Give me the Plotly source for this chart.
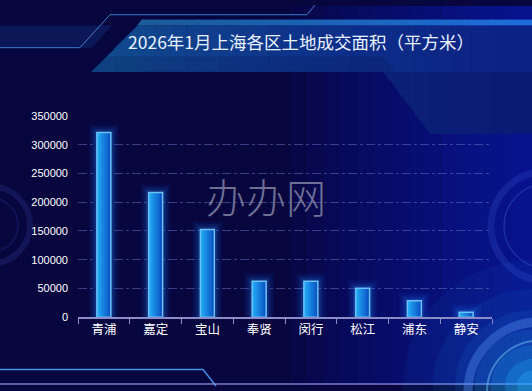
import numpy as np
import plotly.graph_objects as go

# ---------------- data ----------------
districts = ["青浦", "嘉定", "宝山", "奉贤", "闵行", "松江", "浦东", "静安"]
area_sqm = [321500, 217000, 152700, 62500, 62300, 50500, 28500, 8400]
y_ticks = [0, 50000, 100000, 150000, 200000, 250000, 300000, 350000]
title_text = "2026年1月上海各区土地成交面积（平方米）"
watermark = "办办网"

W, H = 532, 391


def px(x, y):
    return x / W, 1 - y / H


def path_of(pts, close=True):
    s = ""
    for i, (x, y) in enumerate(pts):
        a, b = px(x, y)
        s += ("M" if i == 0 else "L") + f"{a:.5f},{b:.5f} "
    return s + ("Z" if close else "")


def lerp_col(c1, c2, t):
    return tuple(int(round(c1[i] + (c2[i] - c1[i]) * t)) for i in range(3))


shapes = []

# right-side blue gradient
for k in range(14):
    x0 = 290 + k * 17
    a, _ = px(x0, 0)
    shapes.append(dict(type="rect", xref="paper", yref="paper", x0=a, x1=1, y0=0, y1=1,
                       fillcolor="rgba(15,28,200,0.06)", line_width=0, layer="below"))

# left soft band
shapes.append(dict(type="path", xref="paper", yref="paper",
                   path=path_of([(0, 20), (112, 20), (92, 43), (0, 43)]),
                   fillcolor="rgba(25,70,150,0.28)", line_width=0, layer="below"))


def top_y(x):
    if x >= 137:
        return 20
    return 20 + (137 - x) * (48 / 46)


def bot_y(x):
    if x <= 383:
        return 68
    if x <= 430:
        return 68 + (x - 383) * (64 / 47)
    return 132


xs = np.unique(np.concatenate([np.linspace(91, 137, 3), np.linspace(137, 383, 16),
                               np.linspace(383, 430, 4), np.linspace(430, 532, 6)]))
c_left, c_mid, c_right = (18, 76, 142), (14, 50, 138), (12, 32, 132)
for i in range(len(xs) - 1):
    xa, xb = xs[i], xs[i + 1]
    xm = (xa + xb) / 2
    if xm < 300:
        c = lerp_col(c_left, c_mid, (xm - 91) / 209)
    else:
        c = lerp_col(c_mid, c_right, (xm - 300) / 232)
    pts = [(xa, top_y(xa)), (xb + 0.6, top_y(xb)), (xb + 0.6, bot_y(xb)), (xa, bot_y(xa))]
    shapes.append(dict(type="path", xref="paper", yref="paper", path=path_of(pts),
                       fillcolor=f"rgb{c}", line_width=0, layer="below"))
# soften lower right extension
shapes.append(dict(type="path", xref="paper", yref="paper",
                   path=path_of([(383, 68), (532, 68), (532, 132), (430, 132)]),
                   fillcolor="rgba(8,14,90,0.35)", line_width=0, layer="below"))
# darker lower band of banner
shapes.append(dict(type="path", xref="paper", yref="paper",
                   path=path_of([(106, 52), (383, 52), (395, 68), (91, 68)]),
                   fillcolor="rgba(5,10,60,0.16)", line_width=0, layer="below"))
# top bright strip
xs2 = np.linspace(137, 532, 20)
for i in range(len(xs2) - 1):
    xa, xb = xs2[i], xs2[i + 1]
    t = ((xa + xb) / 2 - 137) / 395
    c = lerp_col((26, 90, 150), (30, 110, 220), t)
    x_off_a = 4.8 if i == 0 else 0
    pts = [(xa + x_off_a, 14), (xb + 0.6, 14), (xb + 0.6, 20), (xa, 20)]
    shapes.append(dict(type="path", xref="paper", yref="paper", path=path_of(pts),
                       fillcolor=f"rgb{c}", line_width=0, layer="below"))

# thin decorative line at top
shapes.append(dict(type="path", xref="paper", yref="paper",
                   path=path_of([(0, 43), (80, 43), (110, 9), (307, 9), (315, -1)], close=False),
                   line=dict(color="rgba(70,140,220,0.85)", width=1), layer="below"))

# bottom-left line
shapes.append(dict(type="path", xref="paper", yref="paper",
                   path=path_of([(0, 375), (203, 375), (216, 392)], close=False),
                   line=dict(color="rgba(70,150,235,0.95)", width=1.5), layer="below"))
# bottom edge line
a0, b0 = px(0, 390)
shapes.append(dict(type="line", xref="paper", yref="paper", x0=0, x1=1, y0=b0, y1=b0,
                   line=dict(color="rgba(150,150,230,0.8)", width=1.5), layer="below"))


def circle(cx, cy, r, **kw):
    x0, y0 = px(cx - r, cy + r)
    x1, y1 = px(cx + r, cy - r)
    d = dict(type="circle", xref="paper", yref="paper", x0=x0, x1=x1, y0=y0, y1=y1, layer="below")
    d.update(kw)
    return d


# left circle decoration
shapes.append(circle(-10, 226, 40, line=dict(color="rgba(45,60,150,0.30)", width=6), fillcolor="rgba(0,0,0,0)"))
shapes.append(circle(-10, 226, 28, line=dict(color="rgba(45,60,150,0.25)", width=2), fillcolor="rgba(0,0,0,0)"))

# right circle decoration
shapes.append(circle(548, 227, 57, line=dict(color="rgba(50,80,200,0.28)", width=7), fillcolor="rgba(0,0,0,0)"))
shapes.append(circle(548, 227, 44, line=dict(color="rgba(80,120,230,0.35)", width=1.2), fillcolor="rgba(0,0,0,0)"))

# bottom-right glow
for r, al in [(130, 0.05), (100, 0.07), (78, 0.09), (58, 0.13), (42, 0.18), (28, 0.25), (16, 0.3)]:
    shapes.append(circle(533, 392, r, line_width=0, fillcolor=f"rgba(35,175,250,{al})"))
shapes.append(circle(540, 398, 72, line=dict(color="rgba(80,140,240,0.4)", width=9), fillcolor="rgba(0,0,0,0)"))
shapes.append(circle(540, 398, 53, line=dict(color="rgba(120,210,255,0.45)", width=2), fillcolor="rgba(0,0,0,0)"))

# ---------------- figure ----------------
fig = go.Figure()
bw = 0.27

# glow layers
for lw, col in [(16, "rgba(30,120,255,0.07)"), (11, "rgba(30,130,255,0.10)"), (6, "rgba(40,150,255,0.16)")]:
    fig.add_trace(go.Bar(x=districts, y=area_sqm, width=bw, offset=-bw / 2,
                         marker=dict(color="rgba(0,0,0,0)", line=dict(color=col, width=lw)),
                         hoverinfo="skip", showlegend=False))

# gradient body: each layer starts further right and covers to the right edge
n = 8
for i in range(n):
    t = i / (n - 1)
    c = lerp_col((34, 170, 245), (12, 84, 196), t)
    fig.add_trace(go.Bar(x=districts, y=area_sqm, width=bw - i * bw / n, offset=-bw / 2 + i * bw / n,
                         marker=dict(color=f"rgb{c}", line_width=0),
                         hoverinfo="skip", showlegend=False))

# border
fig.add_trace(go.Bar(x=districts, y=area_sqm, width=bw, offset=-bw / 2,
                     marker=dict(color="rgba(0,0,0,0)", line=dict(color="#6cc2f8", width=1.5)),
                     showlegend=False))

fig.update_layout(
    width=W, height=H,
    margin=dict(l=0, r=0, t=0, b=0),
    paper_bgcolor="#07063f",
    plot_bgcolor="rgba(0,0,0,0)",
    barmode="overlay",
    shapes=shapes,
    showlegend=False,
    xaxis=dict(domain=[78 / W, 492 / W], type="category", showline=True,
               linecolor="#8c8cc8", linewidth=1.5, ticks="outside", tickson="boundaries",
               ticklen=5, tickcolor="#8c8cc8", tickwidth=1.2, showgrid=False,
               tickfont=dict(color="#ffffff", size=12.5, family="Noto Sans CJK SC")),
    yaxis=dict(domain=[(H - 321) / H, (H - 113.5) / H], range=[0, 350000],
               tickvals=y_ticks, ticktext=[str(v) for v in y_ticks],
               showgrid=True, gridcolor="rgba(95,110,190,0.55)", griddash="dashdot", gridwidth=1,
               zeroline=False, showline=False, ticklabelstandoff=9,
               tickfont=dict(color="#ffffff", size=11, family="Liberation Sans")),
    annotations=[
        dict(text=title_text, xref="paper", yref="paper", x=301 / W, y=1 - 37 / H,
             xanchor="center", yanchor="middle", showarrow=False,
             font=dict(size=17.5, color="#e8f2ff", family="Noto Sans CJK SC")),
        dict(text=watermark, xref="paper", yref="paper", x=266 / W, y=1 - 196 / H,
             xanchor="center", yanchor="middle", showarrow=False,
             font=dict(size=40, color="rgba(160,160,185,0.7)", family="Noto Sans CJK SC", weight=300)),
    ],
)

fig.write_html("out.html")
